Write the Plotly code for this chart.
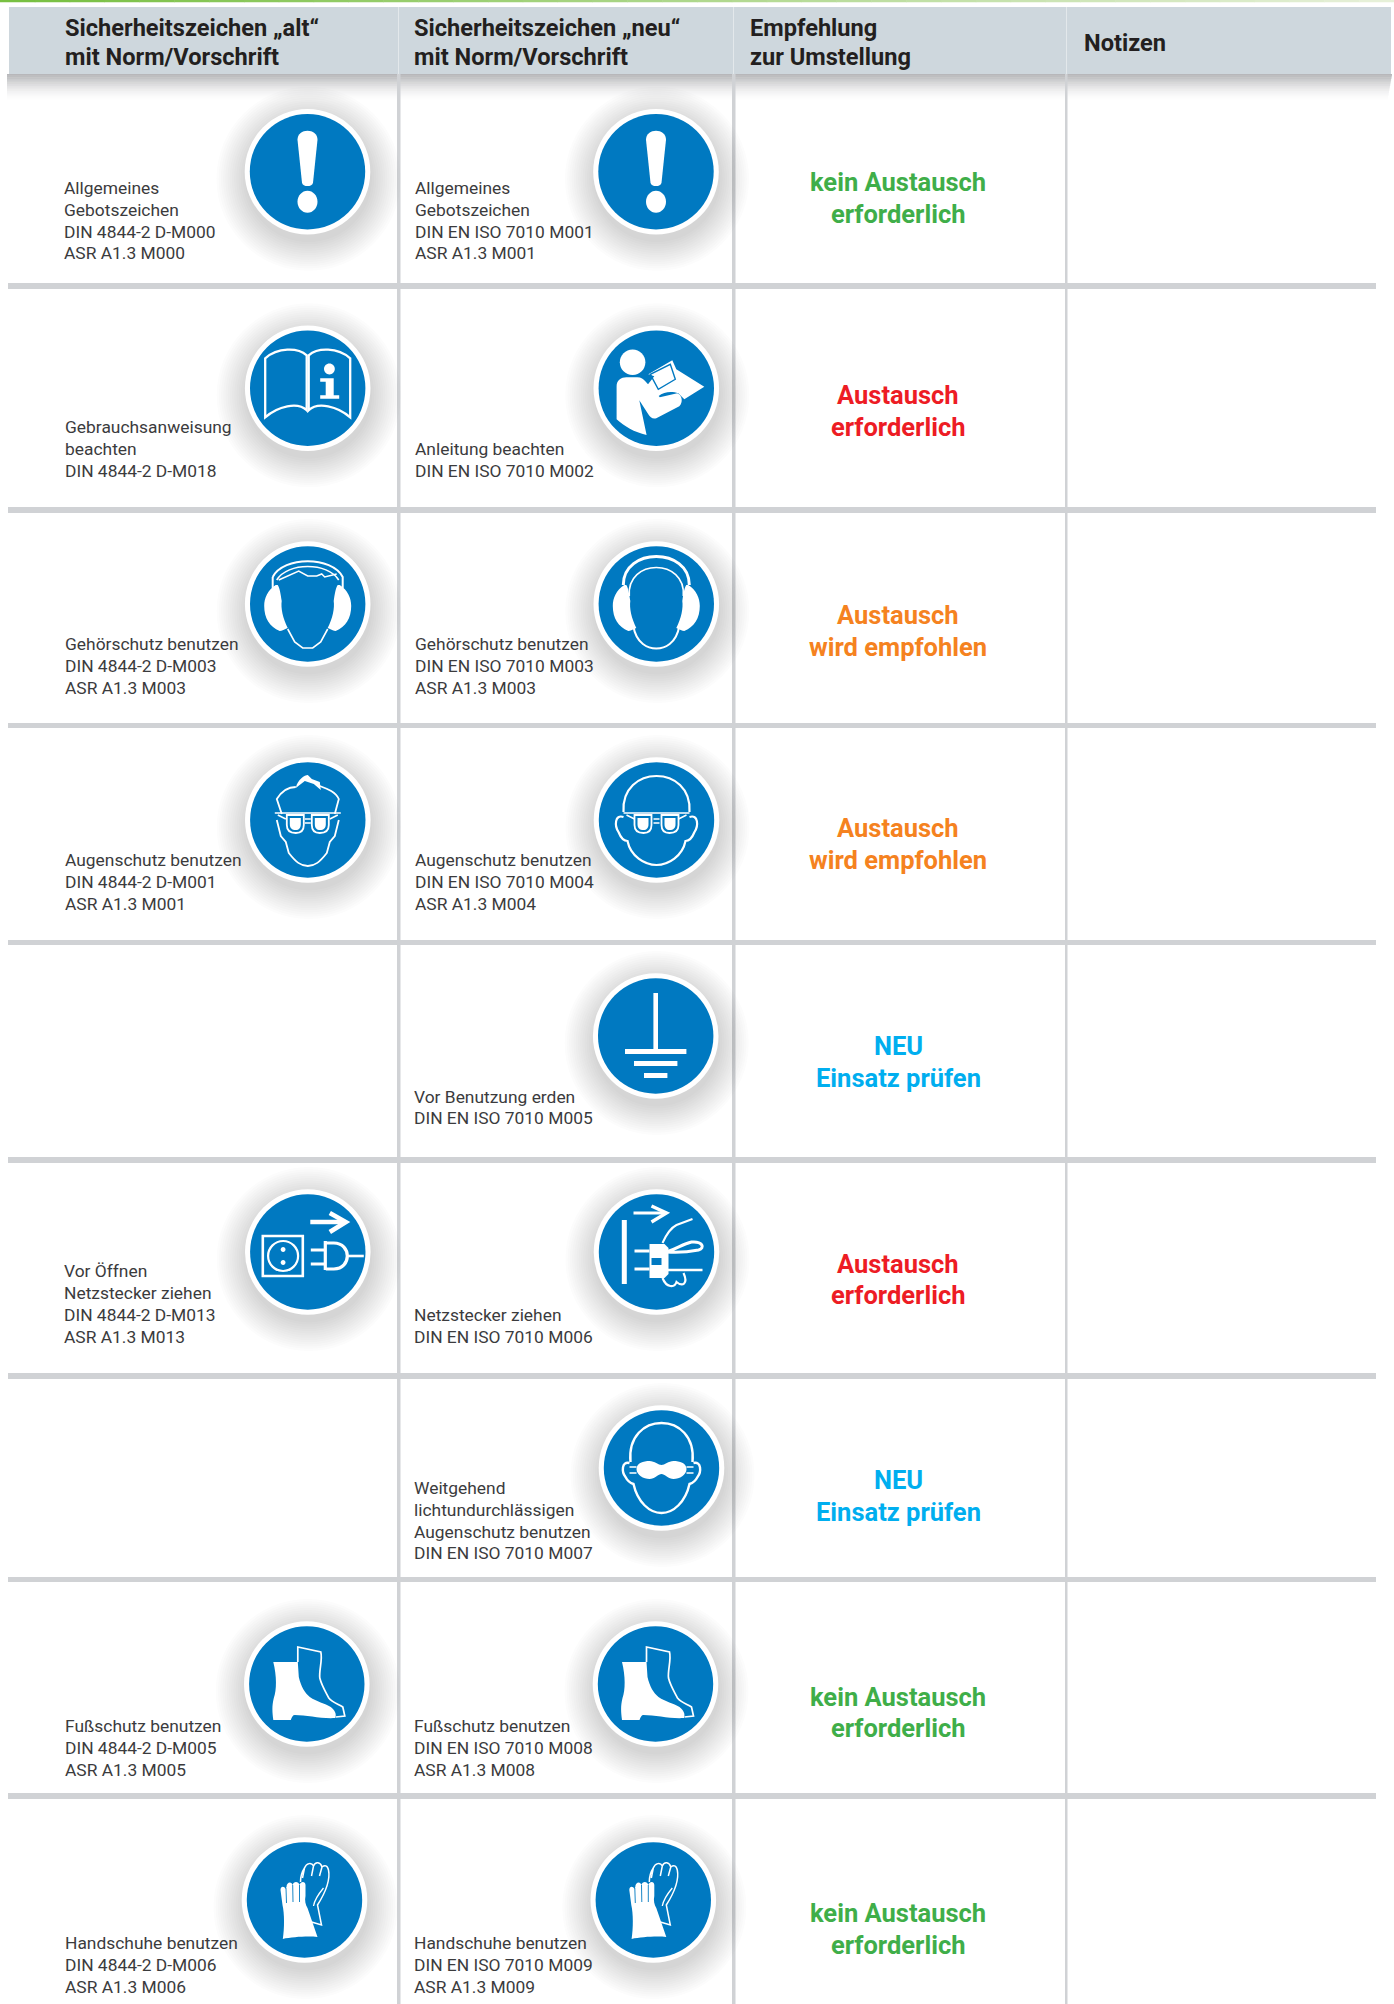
import re
import plotly.graph_objects as go

# ---- table content ----
header_alt = ["Sicherheitszeichen „alt“", "mit Norm/Vorschrift"]
header_neu = ["Sicherheitszeichen „neu“", "mit Norm/Vorschrift"]
header_empf = ["Empfehlung", "zur Umstellung"]
header_notiz = ["Notizen"]

old_text = [
    ["Allgemeines", "Gebotszeichen", "DIN 4844-2 D-M000", "ASR A1.3 M000"],
    ["Gebrauchsanweisung", "beachten", "DIN 4844-2 D-M018"],
    ["Gehörschutz benutzen", "DIN 4844-2 D-M003", "ASR A1.3 M003"],
    ["Augenschutz benutzen", "DIN 4844-2 D-M001", "ASR A1.3 M001"],
    [],
    ["Vor Öffnen", "Netzstecker ziehen", "DIN 4844-2 D-M013", "ASR A1.3 M013"],
    [],
    ["Fußschutz benutzen", "DIN 4844-2 D-M005", "ASR A1.3 M005"],
    ["Handschuhe benutzen", "DIN 4844-2 D-M006", "ASR A1.3 M006"],
]
new_text = [
    ["Allgemeines", "Gebotszeichen", "DIN EN ISO 7010 M001", "ASR A1.3 M001"],
    ["Anleitung beachten", "DIN EN ISO 7010 M002"],
    ["Gehörschutz benutzen", "DIN EN ISO 7010 M003", "ASR A1.3 M003"],
    ["Augenschutz benutzen", "DIN EN ISO 7010 M004", "ASR A1.3 M004"],
    ["Vor Benutzung erden", "DIN EN ISO 7010 M005"],
    ["Netzstecker ziehen", "DIN EN ISO 7010 M006"],
    ["Weitgehend", "lichtundurchlässigen", "Augenschutz benutzen", "DIN EN ISO 7010 M007"],
    ["Fußschutz benutzen", "DIN EN ISO 7010 M008", "ASR A1.3 M008"],
    ["Handschuhe benutzen", "DIN EN ISO 7010 M009", "ASR A1.3 M009"],
]
recommendation = [
    ["kein Austausch", "erforderlich"],
    ["Austausch", "erforderlich"],
    ["Austausch", "wird empfohlen"],
    ["Austausch", "wird empfohlen"],
    ["NEU", "Einsatz prüfen"],
    ["Austausch", "erforderlich"],
    ["NEU", "Einsatz prüfen"],
    ["kein Austausch", "erforderlich"],
    ["kein Austausch", "erforderlich"],
]
recommendation_kind = ["none", "must", "advised", "advised", "new", "must", "new", "none", "none"]
old_sign = ["excl", "book", "ear_old", "eye_old", None, "plug_old", None, "boot", "glove"]
new_sign = ["excl", "reader", "ear_new", "eye_new", "earth", "plug_new", "opaque", "boot", "glove"]

# ---- layout constants (page pixels) ----
W, H = 1394, 2004
KIND_COLOR = {"none": "#3fae49", "must": "#ed1c24", "advised": "#f58220", "new": "#00aeef"}
BLUE = "#0079c1"
GRID = "#d0d2d5"
HEAD = "#ced7dd"
INK = "#231f20"
BODY = "#3b3b3d"
hlines = [(283, 289), (507, 513), (723, 728), (940, 945), (1157, 1163), (1373, 1379), (1577, 1582), (1793, 1799)]
vlines = [(397, 400.5), (732, 735.5), (1065, 1067.5)]
old_centers = [(307.5, 171.7), (307.7, 388.3), (307.7, 604), (307.8, 820), None, (307.8, 1252), None, (306.8, 1684), (304.5, 1900)]
new_centers = [(656, 171.7), (656.3, 388.3), (656.3, 604), (656.5, 820), (655.7, 1036), (656.5, 1252), (661.5, 1468), (655.5, 1684), (653.3, 1900)]
old_lines_y = [[188, 210, 231.5, 253], [427, 449, 470.5], [644, 666, 688], [860, 882, 904], [],
               [1271, 1293, 1314.5, 1336.5], [], [1726, 1748, 1770], [1943, 1965, 1987]]
new_lines_y = [[188, 210, 231.5, 253], [449, 470.5], [644, 666, 688], [860, 882, 904], [1096.5, 1118],
               [1315, 1336.5], [1487.5, 1510, 1531.5, 1553], [1726, 1748, 1770], [1943, 1965, 1987]]
rec_y = [(182, 213.5), (395, 427), (615, 646.5), (828, 860), (1046, 1078), (1264, 1295), (1480, 1511.5), (1697, 1728), (1913, 1945)]
old_x = [64, 64.5, 65, 65, 65, 64, 65, 65, 65]
new_x = [415, 415, 415, 415, 413.5, 413.5, 413.5, 414, 414]


# ---- glyph helpers: paths use pixel offsets from the sign's centre ----
def disc(x, y, rx, ry=None):
    ry = rx if ry is None else ry
    k = 0.5523
    return (f"M{x-rx},{y} C{x-rx},{y-k*ry} {x-k*rx},{y-ry} {x},{y-ry} "
            f"C{x+k*rx},{y-ry} {x+rx},{y-k*ry} {x+rx},{y} "
            f"C{x+rx},{y+k*ry} {x+k*rx},{y+ry} {x},{y+ry} "
            f"C{x-k*rx},{y+ry} {x-rx},{y+k*ry} {x-rx},{y} Z")


PAIR = re.compile(r"(-?\d+\.?\d*),(-?\d+\.?\d*)")


def mirror(p):
    return PAIR.sub(lambda m: f"{-float(m[1])},{m[2]}", p)


def shift(p, cx, cy):
    return PAIR.sub(lambda m: f"{float(m[1])+cx:.2f},{float(m[2])+cy:.2f}", p)


def F(p):
    return (p, "#ffffff", None, 0)


def B(p):
    return (p, BLUE, None, 0)


def S(p, w=2.0, c="#ffffff"):
    return (p, None, c, w)


ear_cup = "M-32,-19 C-40,-14 -43.5,-6 -43.5,2 C-43.5,14 -38,23 -28,27 C-26,27 -23,25 -20,24 C-25,14 -27,4 -26,-3 C-27,-10 -28,-16 -30,-19 Z"
lens = "M-21,-5 L-4,-5 L-4,5 C-4,11 -8,13 -12,13 C-17,13 -21,11 -21,5 Z"
lens_in = "M-18,-2 L-7,-2 L-7,4 C-7,8 -9,10 -12,10 C-16,10 -18,8 -18,4 Z"


def specs(dx=0.0):
    L = PAIR.sub(lambda m: f"{float(m[1])+dx},{m[2]}", lens)
    Li = PAIR.sub(lambda m: f"{float(m[1])+dx},{m[2]}", lens_in)
    R = mirror(L)
    Ri = mirror(Li)
    return [
        S("M-33,-7 L33,-7", 1.6),
        S(L, 1.8), F(Li), S(R, 1.8), F(Ri),
        S("M-3,-1 L3,-1 M-3,3 L3,3", 1.3),
        S("M-30,-5 L-22,-1 M30,-5 L22,-1", 1.5),
    ]


GLYPHS = {
    "excl": [F("M-10,-32 C-10,-44 10,-44 10,-32 L5.5,11 C5,15.5 -5,15.5 -5.5,11 Z"), F(disc(0, 30, 10, 11))],
    "book": [
        S("M-42.5,-30 C-30,-41 -10,-41 -1,-33 L-1,22 C-10,13 -30,18 -42.5,29 Z", 2.3),
        S("M42.5,-30 C30,-41 10,-41 1,-33 L1,22 C10,13 30,18 42.5,29 Z", 2.3),
        F(disc(21.7, -19.3, 5.4)),
        F("M12.5,-10 L26,-10 L26,7 L31.5,7 L31.5,10.5 L12.5,10.5 L12.5,7 L18,7 L18,-6.5 L12.5,-6.5 Z"),
    ],
    "reader": [
        F(disc(-23.7, -26, 12.8)),
        F("M-39.7,-2 C-39.7,-8 -35,-11 -30,-11 L-19,-11 C-15,-11 -13,-9 -11,-7 L3.5,9 L21,5 C26,7 27,14 23,18 L0,30 C-4,31 -6,29 -8,26 L-17,12 L-9.7,46.7 C-22,44 -32,38 -39.7,31 Z"),
        F("M-8,-14 L16,-28 L20,-19 L48,-1.5 L28,11 L22,5 C16,3 8,3 2,8 L-7,-1 L-13,2 L-2,-12 Z"),
        S("M-6,-14 L2,1 L19,-9 L14,-24 Z", 1.4, BLUE),
    ],
    "ear_old": [
        F(ear_cup), F(mirror(ear_cup)),
        S("M-35,-27 C-24,-48 24,-48 35,-27 L35,-16", 2.0),
        S("M-35,-27 L-35,-16", 2.0),
        S("M-31,-24 C-20,-42 20,-42 31,-24", 1.6),
        S("M-29,-24 L-9,-33 L0,-28 L9,-28 L14,-30 L17,-27 L29,-30", 1.5),
        S("M-20,25 L-13,38 L-5,44 L5,44 L13,38 L20,25", 1.6),
    ],
    "ear_new": [
        F(ear_cup), F(mirror(ear_cup)),
        S("M-33,-19 C-33,-57 33,-57 33,-19", 3.0),
        S("M-27,-8 C-30,-46 30,-46 27,-8", 1.6),
        S("M-23,22 C-20,40 -8,44.5 0,44.5 C8,44.5 20,40 23,22", 2.0),
    ],
    "eye_old": [
        F("M-12,-32 C-10,-41 -3,-45 0,-45 L4,-41 L12,-38 L13,-30 L6,-36 L-3,-39 Z"),
        S("M-12,-33 C-20,-33 -26,-29 -31,-21 L-26,-6 M12,-34 C20,-31 28,-28 31,-21 L27,-6", 1.8),
        S("M-31,0 L-27,16 L-22,22 L-19,33 C-12,42 -7,46 0,46 C7,46 12,42 19,33 L22,22 L27,16 L31,0", 1.8),
    ] + specs(0),
    "eye_new": [
        S("M-33,-8 C-36,-56 36,-56 33,-8", 2.2),
        S("M-33,-3 C-42,-6 -42,6 -38,12 C-36,17 -33,21 -29,21 C-26,36 -12,45 0,45 C12,45 26,36 29,21 C33,21 36,17 38,12 C42,6 42,-6 33,-3", 2.2),
    ] + specs(-1),
    "earth": [
        F("M-2.3,-43 L2.3,-43 L2.3,15 L-2.3,15 Z"),
        F("M-30.7,13 L30.7,13 L30.7,18 L-30.7,18 Z"),
        F("M-21.7,25 L21.7,25 L21.7,30 L-21.7,30 Z"),
        F("M-11.7,37 L11.7,37 L11.7,42 L-11.7,42 Z"),
    ],
    "plug_old": [
        S("M-45,-16 L-5,-16 L-5,24 L-45,24 Z", 2.6),
        S(disc(-24.7, 4, 15), 2.2),
        F(disc(-24.7, -2.5, 2.4)), F(disc(-24.7, 10.5, 2.4)),
        S("M2.5,-30 L37,-30", 4.6),
        S("M22,-39 L38,-30 L22,-20", 4.6),
        S("M3,-2 L17,-2 M3,12 L17,12", 3.2),
        S("M17.5,-11 L17.5,18", 3.2),
        S("M18,-9 L26,-9 C44,-9 44,17 26,17 L18,17", 3.2),
        S("M40,4 L56,4", 2.6),
    ],
    "plug_new": [
        F("M-34.7,-32 L-29.7,-32 L-29.7,32 L-34.7,32 Z"),
        S("M-23,-39 L9,-39", 3.0),
        S("M-5,-46 L10,-39 L-5,-30", 3.4),
        F("M-7,-8 L8,-8 L12,-4 L12,22 L8,26 L-7,26 Z"),
        S("M-22,-1 L-7,-1 M-22,17 L-7,17", 3.0),
        B("M-5,6 L5,6 L5,13 L-5,13 Z"),
        S("M6,-9 C10,-18 14,-24 20,-27 L36,-33", 2.0),
        S("M10,0 C22,-4 26,-8 35,-10 C46,-11 49,-4 42,-2 C32,0 22,1 10,0", 3.0),
        S("M10,18 L46,18", 2.4),
        S("M6,26 C10,36 18,36 20,30 C26,35 32,32 27,21", 2.2),
    ],
    "opaque": [
        S("M-31,-6 C-36,-58 36,-58 31,-6", 2.4),
        S("M-32,-5 C-40,-7 -40,4 -36,9 C-34,13 -31,15 -28,16 C-24,34 -12,45 0,45 C12,45 24,34 28,16 C31,15 34,13 36,9 C40,4 40,-7 32,-5", 2.4),
        F("M-25,1 C-25,-5 -18,-7 -12,-7 C-7,-7 -3,-3 0,-3 C3,-3 7,-7 12,-7 C18,-7 25,-5 25,1 C25,7 18,11 12,11 C7,11 3,6 0,6 C-3,6 -7,11 -12,11 C-18,11 -25,7 -25,1 Z"),
        S("M-32,-1 L-25,-1 M-32,5 L-25,5 M32,-1 L25,-1 M32,5 L25,5", 1.5),
    ],
    "boot": [
        S("M-9,-22 L-9,-37 L14,-32 C16,-24 12,-14 13,-6 C15,2 19,8 22,14 C26,19 32,20 36,23 L38,32 L29,33", 1.7),
        F("M-33.5,-22 L-9,-22 L-8,-7 C-6,2 -2,9 3,13 C10,18 18,19 24,23 C28,26 30,30 28.5,34 C15,35 0,31 -12,31 C-14,31 -15,33 -16,36 L-33.5,36 C-34.5,28 -35,22 -33,14 C-30,6 -30,-8 -33.5,-22 Z"),
    ],
    "glove": [
        S("M7,22 L17,25 L13,5 C20,-6 26,-20 24,-30 C23,-35 20,-35 17.5,-33 L15,-24 M17.5,-33 C16,-38 11,-39 9,-34 L7,-24 M9,-34 C7,-38 2,-37 0,-32 L-2,-22 M0,-32 C-2,-29 -4,-24 -4,-18", 1.5),
        S("M19,-12 C14,-6 10,0 9,6", 1.3),
        F("M-21.7,39 C-20,28 -20,14 -22,5 L-24,-10 C-24,-14 -20,-14 -19,-11 L-18,-13 C-18,-18 -13,-19 -12,-15 C-11,-19 -6,-19 -5,-15 C-4,-19 1,-19 1,-15 L1,-4 C0,0 1,5 3,8 L13,37 C3,36 -12,37 -21.7,39 Z"),
        S("M-18.5,-12 L-18,3 M-11.8,-15 L-11.5,2 M-5,-15 L-5,2", 0.9, BLUE),
    ],
}

shapes = []
annotations = []


def rect(x0, y0, x1, y1, color):
    shapes.append(dict(type="rect", xref="x", yref="y", x0=x0, y0=y0, x1=x1, y1=y1,
                       fillcolor=color, line=dict(width=0), layer="above"))


def text(x, y, s, size, color, anchor="left", weight=400):
    annotations.append(dict(x=x, y=y, xref="x", yref="y", text=s, showarrow=False,
                            xanchor=anchor, yanchor="middle", borderpad=0, borderwidth=0,
                            font=dict(family="Roboto", size=size, color=color, weight=weight)))


# top green rule, fading rightwards
steps = 40
for i in range(steps):
    t = i / (steps - 1)
    r, g, b = int(120 + t * 110), int(192 + t * 48), int(66 + t * 150)
    rect(i * W / steps, 0, (i + 1) * W / steps + 0.5, 2.2, f"rgb({r},{g},{b})")

# header shadow
for i, a in enumerate([0.44, 0.40, 0.36, 0.32, 0.28, 0.24, 0.20, 0.165, 0.135, 0.105, 0.08, 0.06, 0.04, 0.025, 0.012]):
    rect(7, 74 + i * 1.7, 1392 - i * 0.3, 74 + (i + 1) * 1.7, f"rgba(90,92,98,{a})")

# header band
rect(9, 7, 1391, 74, HEAD)
for x0, x1 in vlines:
    rect(x0 + 1, 7, x0 + 2, 74, "#e3e8eb")

# grid
for x0, x1 in vlines:
    rect(x0, 74, x1, H, GRID)
for y0, y1 in hlines:
    rect(8, y0, 1376, y1, GRID)


# signs
def draw_sign(key, c):
    cx, cy = c
    for k in range(14):
        r = 92 - k * 2.2
        shapes.append(dict(type="circle", xref="x", yref="y", x0=cx + 1 - r, x1=cx + 1 + r,
                           y0=cy + 7 - r, y1=cy + 7 + r, fillcolor="rgba(70,74,84,0.017)",
                           line=dict(width=0), layer="above"))
    for r, col in ((62.8, "#ffffff"), (57.7, BLUE)):
        shapes.append(dict(type="circle", xref="x", yref="y", x0=cx - r, x1=cx + r, y0=cy - r, y1=cy + r,
                           fillcolor=col, line=dict(width=0), layer="above"))
    for path, fill, stroke, w in GLYPHS[key]:
        s = dict(type="path", xref="x", yref="y", path=shift(path, cx, cy), layer="above",
                 line=dict(width=w, color=stroke) if stroke else dict(width=0))
        if fill:
            s["fillcolor"] = fill
        shapes.append(s)


for key, c in zip(old_sign, old_centers):
    if key:
        draw_sign(key, c)
for key, c in zip(new_sign, new_centers):
    if key:
        draw_sign(key, c)

# header text
HS = 23.6
for s, y in zip(header_alt, (28, 57)):
    text(64.5, y, s, HS, INK, weight=700)
for s, y in zip(header_neu, (28, 57)):
    text(414, y, s, HS, INK, weight=700)
for s, y in zip(header_empf, (28, 57)):
    text(750, y, s, HS, INK, weight=700)
text(1084, 43, header_notiz[0], HS, INK, weight=700)

# body text
for rows, ys, xs in ((old_text, old_lines_y, old_x), (new_text, new_lines_y, new_x)):
    for lines, yy, x in zip(rows, ys, xs):
        for s, y in zip(lines, yy):
            text(x, y, s, 17.4, BODY)

# recommendations
for lines, yy, kind in zip(recommendation, rec_y, recommendation_kind):
    for s, y in zip(lines, yy):
        text(898, y, s, 25.5, KIND_COLOR[kind], anchor="center", weight=700)

fig = go.Figure()
fig.add_trace(go.Scatter(x=[0, W], y=[0, H], mode="markers", marker=dict(opacity=0), hoverinfo="skip", showlegend=False))
fig.update_layout(
    width=W, height=H, margin=dict(l=0, r=0, t=0, b=0),
    paper_bgcolor="#ffffff", plot_bgcolor="#ffffff", showlegend=False,
    xaxis=dict(range=[0, W], visible=False, fixedrange=True),
    yaxis=dict(range=[H, 0], visible=False, fixedrange=True),
    shapes=shapes, annotations=annotations,
)
fig.write_html("out.html", config={"displayModeBar": False, "staticPlot": True},
               post_script="document.body.style.margin='0';document.body.style.overflow='hidden';")
